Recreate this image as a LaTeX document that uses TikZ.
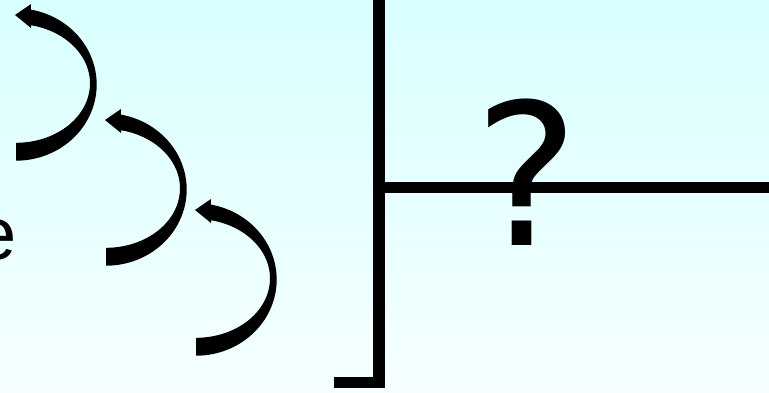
\documentclass[tikz,border=0pt]{standalone}
\usepackage{fontspec}
\newfontfamily\dejavu{DejaVu Sans}
\newfontfamily\libsans{Liberation Sans}
\definecolor{bgtop}{HTML}{D9FFFF}
\definecolor{bgbot}{HTML}{F5FFFF}
\begin{document}
\begin{tikzpicture}[x=1pt,y=-1pt,
  bar/.style={draw=black, line width=11.6pt, line join=miter},
  curvedarrow/.style={fill=black},
  bigmark/.style={font={\dejavu\fontsize{197.5pt}{200pt}\selectfont}, inner sep=0pt, text=black},
  sidetext/.style={font={\libsans\fontsize{74pt}{80pt}\selectfont}, inner sep=0pt, text=black}]
\path[use as bounding box, top color=bgtop, bottom color=bgbot] (0,0) rectangle (769,392);

% curved arrows
\foreach \dx/\dy in {0/0, 90/105, 180/195}{
  \fill[curvedarrow, shift={(\dx,\dy)}]
    plot[domain=90:-79.3, samples=60] ({16+80.7*cos(\x)},{84.5+76.2*sin(\x)})
    -- (31,4) -- (15,15) -- (31,28)
    -- plot[domain=-78.3:90, samples=60] ({16+74*cos(\x)},{83.4+59.4*sin(\x)})
    -- cycle;
}

% text
\node[sidetext, anchor=base east] (e) at (17,259) {e};
\node[bigmark, anchor=base west] (q) at (474,245.7) {?};

% lines
\coordinate (vtop) at (378.7,0);
\coordinate (corner) at (378.7,382.5);
\coordinate (foot) at (334,382.5);
\coordinate (hleft) at (378.7,187.5);
\coordinate (hright) at (769,187.5);
\draw[bar] (vtop) -- (corner) -- (foot);
\draw[bar] (hleft) -- (hright);
\end{tikzpicture}
\end{document}
